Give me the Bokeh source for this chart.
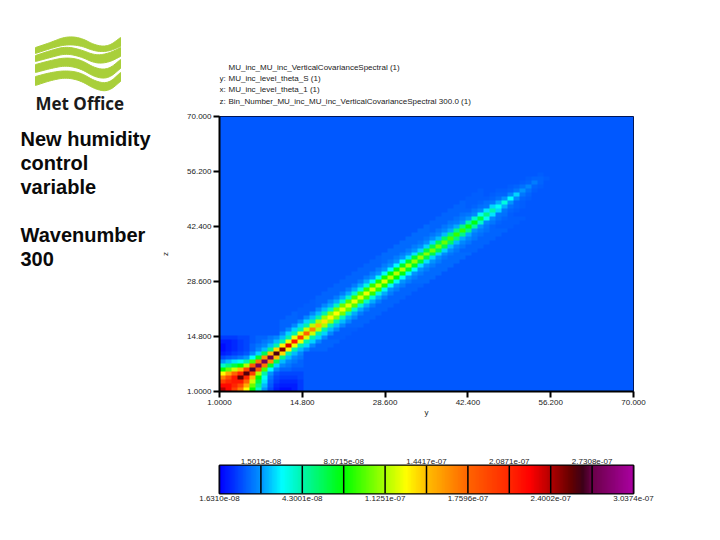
from bokeh.plotting import figure
from bokeh.layouts import row, column
from bokeh.models import Range1d, LinearColorMapper, FixedTicker, LinearAxis
from bokeh.core.properties import value
from bokeh.embed import file_html
from bokeh.resources import INLINE
import numpy as np

# ---------- data (percent of the colour scale) ----------
low_block = [
 [80],
 [74,74],
 [66,70,72],
 [57,64,72,85],
 [45,52,60,70,86],
 [30,36,42,50,66,89],
 [18,22,26,30,40,62,92],
 [10,12,14,16,20,34,58,92],
 [5,6,7,8,10,15,28,55,90],
 [2,3,4,5,6,9,13,25,50,87],
 [1,2,3,4,5,7,9,12,22,48,83],
 [1,2,3,4,5,7,8,9,12,20,46,77],
 [2,2,3,4,5,6,7,8,9,12,20,44,72],
 [4,4,4,5,5,6,7,7,8,9,12,20,44,67],
]
band_start = 11
diag = [83,77,72,67,60,56,50,47,46,45,44,43,44,43,44,43,42,43,41,41,41,40,39,39,38,37,37,36,34,33,33,31,29,26,22,20,16,17,15,13,10,9,8.5,7]
off1 = [46,45,44,43,42,41,40,39,38,37,36,35,34,34,33,33,32,31,30,29,28,28,27,26,26,25,25,24,23,22,22,20,18,16,14,13,11,10,9,8,7.5,7,7,6.5]
off2 = [22,21,20,20,20,20,20,20,19,19,18,18,18,17,17,16,16,16,15,15,15,14,14,13,13,13,12,12,11,11,10,10,9,9,8,8,7.5,7,7,7,6.5,6.5,6,6]
off3 = [14,13,13,13,13,12,12,12,11,11,11,11,11,11,11,10,10,10,10,10,10,10,10,9.5,9.5,9.5,9,9,9,8.5,8.5,8,8,7.5,7.5,7,7,6.5,6.5,6,6,6,6,6]
off4 = [9,9,9,9,9,9,9,9,9,8.5,8.5,8.5,8.5,8.5,8.5,8.5,8.5,8.5,8.5,8.5,8.5,8.5,8.5,8,8,8,8,8,8,7.5,7.5,7,7,7,6.5,6.5,6.5,6,6,6,6,6,6,6]
halo = [7,7,7,6.5,6.5,6.5,6.8,6.8,6.8,6.8,6.8,6.8,6.8,6.8,6.8,7,7,7.2,7.2,7.2,7.2,7.2,7.2,7.2,7.2,7,7,7,7,7,6.8,6.5,6.5,6.5,6,6,6,6,6,6,6,6,6,6]
background = 6
n_cells = 69

axis_ticks = [1.0, 14.8, 28.6, 42.4, 56.2, 70.0]
axis_labels = ["1.0000", "14.800", "28.600", "42.400", "56.200", "70.000"]
bar_edges = [0, 10, 20, 30, 40, 50, 60, 70, 80, 90, 100]
bar_top = ["1.5015e-08", "8.0715e-08", "1.4417e-07", "2.0871e-07", "2.7308e-07"]
bar_bottom = ["1.6310e-08", "4.3001e-08", "1.1251e-07", "1.7596e-07", "2.4002e-07", "3.0374e-07"]
legend_lines = [
 ("", "MU_inc_MU_inc_VerticalCovarianceSpectral (1)"),
 ("y:", "MU_inc_level_theta_S (1)"),
 ("x:", "MU_inc_level_theta_1 (1)"),
 ("z:", "Bin_Number_MU_inc_MU_inc_VerticalCovarianceSpectral 300.0 (1)"),
]
side_text = ["New humidity", "control", "variable", "", "Wavenumber", "300"]
side_y = [138, 162, 186, 0, 234, 258]

# colour scale
stops_pos = [0, 10, 15, 20, 30, 40, 45, 50, 60, 70, 75, 80, 85, 88, 90, 100]
stops_rgb = [(0,0,255),(0,150,255),(0,255,255),(0,245,170),(0,255,0),(170,255,0),(255,255,0),
             (255,190,0),(255,100,0),(255,40,0),(255,0,0),(180,0,0),(100,0,0),(60,0,25),(105,0,70),(170,0,160)]
grid_pos = np.linspace(0, 100, 256)
palette = ["#%02x%02x%02x" % tuple(int(round(np.interp(g, stops_pos, [c[k] for c in stops_rgb]))) for k in range(3)) for g in grid_pos]
mapper = LinearColorMapper(palette=palette, low=0, high=100)

# build the symmetric matrix from what was read
M = np.full((n_cells, n_cells), float(background))
for off, band in [(7, halo), (6, halo), (5, halo), (4, off4), (3, off3), (2, off2), (1, off1), (0, diag)]:
    for k, v in enumerate(band):
        a = band_start - 1 + k
        if a + off < n_cells:
            M[a, a + off] = v
            M[a + off, a] = v
for i, r in enumerate(low_block):
    for j, v in enumerate(r):
        M[i, j] = v
        M[j, i] = v

FONT = "Liberation Sans"


def chaikin(xs, ys, rounds=3):
    pts = np.column_stack([xs, ys]).astype(float)
    for _ in range(rounds):
        q = pts[:-1] * 0.75 + pts[1:] * 0.25
        r = pts[:-1] * 0.25 + pts[1:] * 0.75
        new = np.empty((len(q) * 2, 2))
        new[0::2] = q
        new[1::2] = r
        pts = np.vstack([pts[:1], new, pts[-1:]])
    return list(pts[:, 0]), list(pts[:, 1])

# ---------- left panel ----------
left = figure(width=158, height=532, x_range=Range1d(0, 158), y_range=Range1d(532, 0),
              toolbar_location=None, output_backend="svg", min_border=0)
left.axis.visible = False
left.grid.visible = False
left.outline_line_color = None
logo_x = [35, 50, 65, 80, 95, 108, 120]
wave_top = [[47,42,36,37,45,46,37],[55,50,46,49,55,53,47],[64,60,57,59,68,69,59],[76,72,70,72,81,83,72]]
wave_bot = [[53,48,44,45,51,51,46],[61,57,53,56,63,62,56],[72,68,65,68,77,78,68],[85,80,77,80,89,91,81]]
px, py = [], []
for t, b in zip(wave_top, wave_bot):
    tx, ty = chaikin(logo_x, t)
    bx, by = chaikin(logo_x, b)
    px.append(tx + bx[::-1])
    py.append(ty + by[::-1])
left.patches(px, py, fill_color="#a9cf3a", line_color="#a9cf3a")
left.text([35], [103], text=["Met Office"], text_font=value("Open Sans"), text_font_style="bold",
          text_font_size="17px", text_color="#1a1a1a", text_baseline="alphabetic")
left.text([20]*len(side_text), side_y, text=side_text, text_font=value(FONT), text_font_style="bold",
          text_font_size="20px", text_color="#0a0a0a", text_baseline="alphabetic")

# ---------- header ----------
head = figure(frame_width=414, frame_height=108, x_range=Range1d(218, 632), y_range=Range1d(108, 0),
              toolbar_location=None, output_backend="svg",
              min_border_left=59, min_border_right=29, min_border_top=0, min_border_bottom=0)
head.axis.visible = False
head.grid.visible = False
head.outline_line_color = None
ly = [66.5, 77.5, 88.5, 100.5]
head.text([218]*4, ly, text=[l[0] for l in legend_lines], text_font=value(FONT), text_font_size="8px",
          text_baseline="alphabetic", text_color="#222222")
head.text([227]*4, ly, text=[l[1] for l in legend_lines], text_font=value(FONT), text_font_size="8px",
          text_baseline="alphabetic", text_color="#222222")

# ---------- main heat map ----------
p = figure(frame_width=414, frame_height=275, x_range=Range1d(1, 70), y_range=Range1d(1, 70),
           toolbar_location=None, output_backend="svg",
           min_border_left=59, min_border_right=29, min_border_top=8, min_border_bottom=29)
p.image(image=[M], x=1, y=1, dw=69, dh=69, color_mapper=mapper)
p.grid.visible = False
p.outline_line_color = "#000020"
for ax, lab in ((p.xaxis, "y"), (p.yaxis, "z")):
    ax.ticker = FixedTicker(ticks=axis_ticks)
    ax.major_label_overrides = dict(zip(axis_ticks, axis_labels))
    ax.minor_tick_line_color = None
    ax.major_tick_in = 0
    ax.major_tick_out = 6
    ax.major_tick_line_width = 2
    ax.major_tick_line_color = "black"
    ax.axis_line_width = 2
    ax.axis_line_color = "black"
    ax.major_label_text_font = FONT
    ax.major_label_text_font_size = "8px"
    ax.major_label_text_color = "#222222"
    ax.major_label_standoff = 2
    ax.axis_label = lab
    ax.axis_label_text_font = FONT
    ax.axis_label_text_font_size = "8px"
    ax.axis_label_text_font_style = "normal"
    ax.axis_label_text_color = "#222222"
p.yaxis.major_label_orientation = "horizontal"
p.yaxis.axis_label_standoff = 14
p.xaxis.axis_label_standoff = 0

# ---------- colour bar ----------
bar = figure(frame_width=414, frame_height=28, x_range=Range1d(0, 100), y_range=Range1d(0, 1),
             toolbar_location=None, output_backend="svg", x_axis_location="below",
             min_border_left=59, min_border_right=29, min_border_top=45, min_border_bottom=17)
bar.image(image=[np.array([grid_pos])], x=0, y=0, dw=100, dh=1, color_mapper=mapper)
bar.segment(bar_edges, [0]*len(bar_edges), bar_edges, [1]*len(bar_edges), line_color="black", line_width=1.5)
bar.grid.visible = False
bar.yaxis.visible = False
bar.outline_line_color = "black"
bar.outline_line_width = 2
bottom_axis = bar.below[0]
top_axis = LinearAxis()
bar.add_layout(top_axis, "above")
tt = bar_edges[1::2]
bt = bar_edges[0::2]
for ax, ticks, labels in ((top_axis, tt, bar_top), (bottom_axis, bt, bar_bottom)):
    ax.ticker = FixedTicker(ticks=ticks)
    ax.major_label_overrides = dict(zip(ticks, labels))
    ax.minor_tick_line_color = None
    ax.major_tick_line_color = None
    ax.major_tick_in = 0
    ax.major_tick_out = 0
    ax.axis_line_color = None
    ax.major_label_text_font = FONT
    ax.major_label_text_font_size = "8px"
    ax.major_label_text_color = "#222222"
    ax.major_label_standoff = 2

page = row(left, column(head, p, bar))
open("out.html", "w").write(file_html(page, INLINE))
